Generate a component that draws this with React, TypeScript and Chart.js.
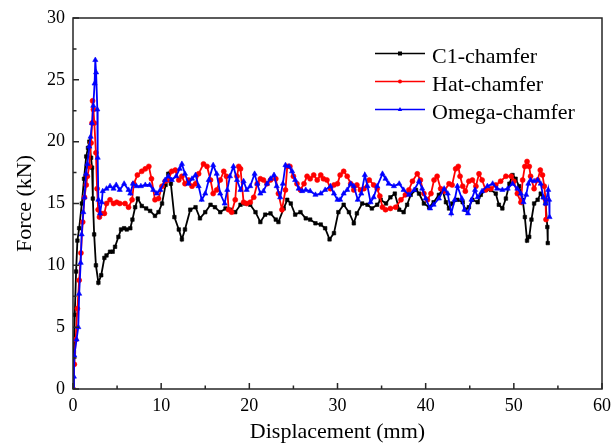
import React, { useEffect, useRef } from "react";
import { Chart, registerables } from "chart.js";

Chart.register(...registerables);

// ---- Data ----
const seriesLabels = ["C1-chamfer", "Hat-chamfer", "Omega-chamfer"];
const seriesColors = ["#000000", "#ff0000", "#0000ff"];
const seriesMarkers = ["rect", "circle", "triangle"];

const xAxisTitle = "Displacement (mm)";
const yAxisTitle = "Force (kN)";
const xMajorTicks = [0, 10, 20, 30, 40, 50, 60];
const xMinorTicks = [5, 15, 25, 35, 45, 55];
const yMajorTicks = [0, 5, 10, 15, 20, 25, 30];
const yMinorTicks = [2.5, 7.5, 12.5, 17.5, 22.5, 27.5];

// [displacement mm, force kN]
const c1Chamfer: [number, number][] = [
  [0, 0], [0.1, 3], [0.2, 6], [0.35, 9.5], [0.5, 12], [0.7, 13], [1.0, 15], [1.25, 17],
  [1.5, 18.8], [1.7, 19.5], [1.85, 20], [2.05, 18.7], [2.16, 17.9], [2.25, 15.4], [2.4, 12.5],
  [2.6, 10], [2.88, 8.6], [3.2, 9.2], [3.56, 10.6], [3.8, 10.8], [4.2, 11.1], [4.5, 11.1],
  [4.77, 11.5], [5.15, 12.3], [5.45, 12.9], [5.8, 13.0], [6.1, 12.9], [6.5, 13.0], [6.74, 13.7],
  [7.05, 14.7], [7.35, 15.4], [7.8, 14.8], [8.3, 14.6], [8.75, 14.4], [9.3, 14.0], [9.7, 14.3],
  [10.1, 15.0], [10.5, 16.5], [10.8, 17.4], [11.1, 16.6], [11.5, 13.9], [12.0, 12.9], [12.35, 12.1],
  [12.7, 12.9], [13.3, 14.5], [13.9, 14.7], [14.4, 13.8], [15.0, 14.3], [15.6, 14.9], [16.1, 14.7],
  [16.7, 14.3], [17.3, 14.6], [17.8, 14.5], [18.4, 14.3], [19.0, 14.9], [19.5, 15.0], [20.1, 14.9],
  [20.7, 14.3], [21.25, 13.5], [21.8, 14.1], [22.4, 14.2], [23.0, 13.7], [23.3, 13.5], [23.9, 14.6],
  [24.3, 15.3], [24.7, 15.0], [25.2, 14.1], [25.8, 14.3], [26.4, 13.8], [26.9, 13.7], [27.5, 13.4],
  [28.1, 13.3], [28.6, 13.0], [29.1, 12.1], [29.6, 12.6], [30.1, 14.3], [30.7, 14.9], [31.3, 14.3],
  [31.85, 13.4], [32.2, 14.2], [32.8, 15.0], [33.4, 14.9], [33.9, 14.6], [34.5, 14.9], [34.9, 15.3],
  [35.5, 15.0], [36.0, 15.5], [36.5, 15.8], [37.0, 14.5], [37.5, 14.3], [37.9, 14.9], [38.3, 15.7],
  [38.9, 16.1], [39.25, 15.8], [39.8, 15.0], [40.4, 14.7], [40.9, 15.1], [41.5, 15.7], [41.9, 16.1],
  [42.3, 15.1], [42.65, 14.6], [43.0, 15.0], [43.6, 15.3], [44.2, 15.1], [44.5, 14.5], [44.9, 14.7],
  [45.3, 15.3], [45.9, 15.1], [46.25, 15.7], [46.8, 16.1], [47.4, 16.1], [47.95, 15.8], [48.3, 14.9],
  [48.7, 14.6], [49.1, 15.4], [49.5, 16.6], [49.85, 17.3], [50.2, 17.0], [50.6, 16.4], [51.0, 15.3],
  [51.25, 13.9], [51.5, 12.0], [51.75, 12.3], [52.0, 13.7], [52.3, 15.0], [52.7, 15.3], [53.05, 15.8],
  [53.35, 15.5], [53.6, 15.0], [53.8, 13.1], [53.85, 11.8],
];

const hatChamfer: [number, number][] = [
  [0, 0], [0.15, 2], [0.3, 4], [0.5, 6.5], [0.7, 8.8], [0.9, 11], [1.1, 13.5], [1.3, 15.5],
  [1.5, 16.5], [1.63, 17.2], [1.85, 18], [2.05, 19.9], [2.16, 21.5], [2.22, 23.3], [2.32, 22.6],
  [2.42, 21.5], [2.6, 19.1], [2.73, 16.2], [2.85, 14.5], [3.0, 13.9], [3.2, 14.2], [3.56, 14.2],
  [3.8, 15.0], [4.2, 15.3], [4.6, 15.0], [4.96, 15.1], [5.3, 15.0], [5.9, 15.0], [6.3, 14.7],
  [6.7, 15.3], [6.9, 16.6], [7.3, 17.3], [7.8, 17.6], [8.2, 17.8], [8.6, 18.0], [8.9, 17.0],
  [9.3, 15.3], [9.7, 15.4], [10.1, 16.4], [10.45, 16.8], [10.8, 16.9], [11.2, 17.6], [11.6, 17.7],
  [12.0, 16.9], [12.35, 17.2], [12.7, 16.6], [13.1, 16.9], [13.5, 16.4], [13.9, 16.6], [14.25, 17.4],
  [14.8, 18.2], [15.2, 18.0], [15.6, 16.9], [15.9, 15.8], [16.3, 16.1], [16.7, 16.9], [17.1, 17.6],
  [17.4, 17.2], [17.65, 14.5], [18.0, 14.3], [18.4, 15.3], [18.6, 17.2], [18.8, 18.0], [19.0, 17.8],
  [19.35, 15.1], [19.7, 15.0], [20.1, 15.1], [20.5, 15.5], [20.9, 16.6], [21.25, 17.0], [21.6, 16.9],
  [22.0, 16.6], [22.4, 16.9], [23.0, 17.0], [23.3, 15.8], [23.7, 14.5], [24.1, 16.1], [24.3, 18.0],
  [24.6, 18.0], [25.0, 17.2], [25.4, 16.6], [25.8, 16.1], [26.2, 16.6], [26.55, 17.2], [26.9, 17.0],
  [27.3, 17.3], [27.7, 16.9], [28.1, 17.3], [28.4, 17.0], [28.8, 16.9], [29.2, 16.2], [29.6, 16.5],
  [30.0, 16.6], [30.3, 17.3], [30.7, 17.6], [31.1, 17.2], [31.5, 16.6], [31.85, 16.1], [32.2, 16.5],
  [32.6, 16.1], [33.0, 16.2], [33.6, 16.9], [34.1, 16.5], [34.5, 16.2], [34.8, 15.6], [35.1, 14.7],
  [35.45, 14.5], [36.0, 14.6], [36.6, 14.7], [37.2, 15.3], [37.7, 15.7], [38.1, 16.1], [38.5, 16.8],
  [39.05, 17.4], [39.4, 16.9], [39.8, 15.8], [40.2, 15.3], [40.6, 15.8], [40.95, 16.9], [41.3, 17.2],
  [41.7, 16.2], [42.1, 16.0], [42.65, 16.6], [43.0, 16.5], [43.4, 17.8], [43.7, 18.0], [43.9, 17.2],
  [44.2, 16.4], [44.5, 16.0], [44.9, 16.8], [45.3, 16.9], [45.7, 16.4], [46.05, 17.4], [46.4, 16.9],
  [46.8, 16.1], [47.4, 16.2], [47.95, 16.5], [48.5, 16.8], [49.1, 17.2], [49.7, 17.2], [50.0, 16.8],
  [50.4, 15.8], [50.8, 15.1], [51.0, 16.9], [51.25, 18.0], [51.5, 18.4], [51.75, 18.0], [51.9, 17.2],
  [52.3, 16.2], [52.7, 16.9], [53.0, 17.7], [53.25, 17.3], [53.45, 16.4], [53.6, 15.3], [53.65, 13.7],
];

const omegaChamfer: [number, number][] = [
  [0, 0], [0.1, 1], [0.15, 2.7], [0.4, 4], [0.6, 5], [0.7, 7.7], [0.87, 10.2], [0.98, 12.5],
  [1.17, 14.3], [1.3, 15.5], [1.48, 17.4], [1.63, 18.2], [1.85, 19.6], [2.0, 20.4], [2.16, 21.5],
  [2.3, 22.9], [2.45, 24.7], [2.53, 26.6], [2.62, 25.6], [2.76, 22.6], [2.8, 18.7], [2.88, 15.3],
  [3.07, 14.2], [3.26, 15.1], [3.37, 16.0], [3.8, 16.2], [4.2, 16.4], [4.6, 16.2], [4.9, 16.5],
  [5.3, 16.1], [5.8, 16.6], [6.3, 16.1], [6.5, 15.8], [6.8, 16.6], [7.2, 16.4], [7.7, 16.4],
  [8.2, 16.5], [8.7, 16.5], [9.1, 16.1], [9.5, 15.8], [9.9, 16.1], [10.45, 16.9], [10.8, 17.2],
  [11.2, 16.9], [11.7, 17.2], [12.1, 17.8], [12.35, 18.2], [12.7, 17.4], [13.1, 16.6], [13.5, 17.0],
  [13.9, 17.3], [14.25, 16.4], [14.6, 15.3], [15.0, 15.8], [15.4, 16.9], [15.9, 18.1], [16.3, 17.4],
  [16.7, 15.8], [17.2, 15.0], [17.5, 16.1], [17.8, 17.2], [18.2, 18.0], [18.6, 16.9], [19.0, 16.1],
  [19.35, 16.8], [19.7, 16.1], [20.1, 16.4], [20.6, 17.4], [20.9, 16.6], [21.25, 15.8], [21.6, 16.0],
  [22.0, 16.6], [22.4, 17.0], [22.8, 17.3], [23.1, 16.4], [23.5, 15.5], [23.8, 16.6], [24.1, 18.1],
  [24.5, 18.0], [24.85, 17.6], [25.2, 16.9], [25.6, 16.2], [26.0, 16.0], [26.4, 16.1], [26.9, 16.0],
  [27.5, 15.7], [28.1, 15.8], [28.6, 16.1], [29.2, 16.4], [29.6, 15.8], [30.0, 15.3], [30.3, 15.3],
  [30.7, 15.8], [31.1, 16.1], [31.5, 16.6], [31.85, 16.4], [32.3, 15.3], [32.7, 15.8], [33.1, 17.3],
  [33.4, 16.4], [33.75, 15.1], [34.1, 15.5], [34.5, 16.4], [35.1, 17.4], [35.45, 17.0], [35.8, 16.6],
  [36.4, 16.4], [37.0, 16.6], [37.5, 16.1], [38.1, 15.7], [38.7, 16.1], [39.25, 16.8], [39.6, 16.2],
  [40.0, 15.4], [40.5, 14.6], [40.9, 14.9], [41.5, 15.4], [42.1, 16.2], [42.5, 15.8], [42.9, 14.2],
  [43.3, 15.3], [43.6, 16.4], [44.1, 15.4], [44.4, 14.5], [44.8, 14.2], [45.2, 15.3], [45.6, 16.1],
  [45.9, 15.5], [46.4, 16.0], [47.0, 16.4], [47.6, 16.6], [48.1, 16.2], [48.7, 16.1], [49.3, 16.2],
  [49.85, 16.6], [50.4, 16.2], [50.8, 15.8], [51.1, 15.1], [51.4, 15.7], [51.65, 16.6], [51.9, 16.9],
  [52.3, 16.8], [52.7, 16.9], [53.05, 16.6], [53.35, 15.5], [53.6, 15.0], [53.9, 16.1], [54.0, 15.3],
  [54.05, 13.9],
];

const allSeries = [c1Chamfer, hatChamfer, omegaChamfer];

const FONT = "'Liberation Serif', 'Times New Roman', serif";
const AXIS_COLOR = "#262626";

function drawMarker(ctx: CanvasRenderingContext2D, style: string, x: number, y: number, r: number, color: string) {
  ctx.save();
  ctx.fillStyle = color;
  ctx.beginPath();
  if (style === "rect") {
    ctx.rect(x - r, y - r, 2 * r, 2 * r);
  } else if (style === "circle") {
    ctx.arc(x, y, r, 0, Math.PI * 2);
  } else {
    ctx.moveTo(x, y - r * 1.2);
    ctx.lineTo(x + r * 1.1, y + r * 0.8);
    ctx.lineTo(x - r * 1.1, y + r * 0.8);
    ctx.closePath();
  }
  ctx.fill();
  ctx.restore();
}

const framePlugin = {
  id: "originFrame",
  afterDatasetsDraw(chart: any) {
    const { ctx, chartArea: a, scales } = chart;
    const xs = scales.x;
    const ys = scales.y;
    ctx.save();
    ctx.strokeStyle = AXIS_COLOR;
    ctx.lineWidth = 1.5;
    ctx.strokeRect(a.left, a.top, a.right - a.left, a.bottom - a.top);
    ctx.beginPath();
    const major = 6;
    const minor = 3.5;
    xMajorTicks.forEach((v) => {
      const px = xs.getPixelForValue(v);
      ctx.moveTo(px, a.bottom);
      ctx.lineTo(px, a.bottom - major);
    });
    xMinorTicks.forEach((v) => {
      const px = xs.getPixelForValue(v);
      ctx.moveTo(px, a.bottom);
      ctx.lineTo(px, a.bottom - minor);
    });
    yMajorTicks.forEach((v) => {
      const py = ys.getPixelForValue(v);
      ctx.moveTo(a.left, py);
      ctx.lineTo(a.left + major, py);
    });
    yMinorTicks.forEach((v) => {
      const py = ys.getPixelForValue(v);
      ctx.moveTo(a.left, py);
      ctx.lineTo(a.left + minor, py);
    });
    ctx.stroke();
    ctx.restore();
  },
  afterDraw(chart: any) {
    const { ctx } = chart;
    const lineX0 = 375;
    const lineX1 = 425;
    const textX = 432;
    const baselines = [62.5, 90.5, 118.5];
    ctx.save();
    chart.data.datasets.forEach((ds: any, i: number) => {
      const base = baselines[i];
      const ly = base - 9;
      ctx.strokeStyle = ds.borderColor;
      ctx.lineWidth = 1.5;
      ctx.beginPath();
      ctx.moveTo(lineX0, ly);
      ctx.lineTo(lineX1, ly);
      ctx.stroke();
      drawMarker(ctx, ds.pointStyle, (lineX0 + lineX1) / 2, ly, 2, ds.borderColor);
      ctx.fillStyle = "#000";
      ctx.font = `22px ${FONT}`;
      ctx.textAlign = "left";
      ctx.textBaseline = "alphabetic";
      ctx.fillText(ds.label, textX, base);
    });
    ctx.restore();
  },
};

export default function App() {
  const canvasRef = useRef<HTMLCanvasElement | null>(null);

  useEffect(() => {
    const canvas = canvasRef.current;
    if (!canvas) return;
    const datasets = allSeries.map((pts, i) => ({
      label: seriesLabels[i],
      data: pts.map(([x, y]) => ({ x, y })),
      borderColor: seriesColors[i],
      backgroundColor: seriesColors[i],
      pointBackgroundColor: seriesColors[i],
      pointBorderColor: seriesColors[i],
      pointStyle: seriesMarkers[i],
      pointRadius: seriesMarkers[i] === "triangle" ? 3 : 2.5,
      pointBorderWidth: 0.6,
      borderWidth: 1.8,
      tension: 0,
      fill: false,
      order: 3 - i,
    }));

    const chart = new Chart(canvas, {
      type: "line",
      data: { datasets },
      options: {
        animation: false,
        responsive: false,
        maintainAspectRatio: false,
        devicePixelRatio: 1,
        layout: { padding: { left: 0, right: 9, top: 18, bottom: 0 } },
        plugins: {
          legend: { display: false },
          tooltip: { enabled: false },
        },
        scales: {
          x: {
            type: "linear",
            min: 0,
            max: 60,
            afterFit: (scale: any) => {
              scale.height = 57;
              scale.paddingLeft = 0;
              scale.paddingRight = 0;
            },
            afterBuildTicks: (scale: any) => {
              scale.ticks = xMajorTicks.map((v) => ({ value: v }));
            },
            grid: { display: false, drawTicks: false },
            border: { display: false },
            ticks: {
              color: "#000",
              padding: 6,
              maxRotation: 0,
              autoSkip: false,
              font: { family: FONT, size: 18 },
            },
            title: {
              display: true,
              text: xAxisTitle,
              color: "#000",
              padding: { top: 0, bottom: 1 },
              font: { family: FONT, size: 22, lineHeight: 1.2 },
            },
          },
          y: {
            type: "linear",
            min: 0,
            max: 30,
            afterFit: (scale: any) => {
              scale.width = 73;
              scale.paddingTop = 0;
              scale.paddingBottom = 0;
            },
            afterBuildTicks: (scale: any) => {
              scale.ticks = yMajorTicks.map((v) => ({ value: v }));
            },
            grid: { display: false, drawTicks: false },
            border: { display: false },
            ticks: {
              color: "#000",
              padding: 8,
              autoSkip: false,
              font: { family: FONT, size: 18 },
            },
            title: {
              display: true,
              text: yAxisTitle,
              color: "#000",
              padding: { top: 12, bottom: 0 },
              font: { family: FONT, size: 22, lineHeight: 1.2 },
            },
          },
        },
      },
      plugins: [framePlugin],
    } as any);

    return () => {
      chart.destroy();
    };
  }, []);

  return (
    <div style={{ position: "absolute", left: 0, top: 0, width: 611, height: 446, background: "#fff" }}>
      <canvas ref={canvasRef} width={611} height={446} style={{ width: 611, height: 446, display: "block" }} />
    </div>
  );
}
